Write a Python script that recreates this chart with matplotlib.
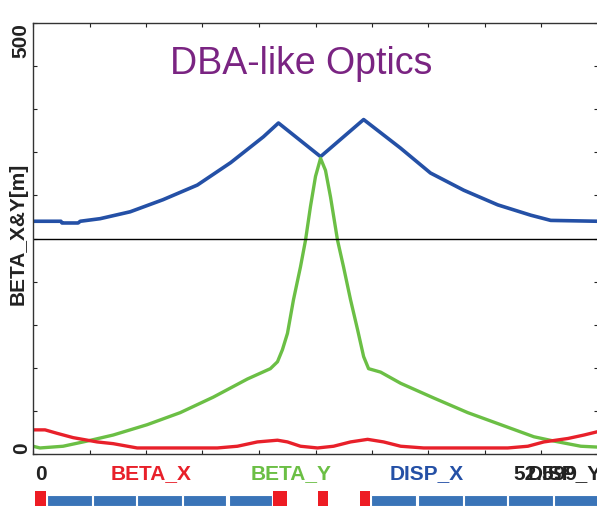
import matplotlib.pyplot as plt
import matplotlib.transforms as mtransforms

plt.rcParams['font.family'] = ['Liberation Sans', 'DejaVu Sans']

# position along the lattice [m]
L_TOTAL = 52.599

# blue curve (upper panel)
disp_s = [0.0, 2.6, 2.7, 4.2, 4.4, 6.25, 9.05, 12.1, 15.3, 18.4, 21.45, 22.85,
          26.77, 30.78, 34.2, 37.0, 40.1, 43.27, 46.35, 48.2, 52.6]
disp_v = [270, 270, 268, 268, 270, 273, 281, 295, 312, 338, 368, 384,
          345, 388, 355, 326, 306, 289, 277, 271, 270]

# green curve
bety_s = [0.0, 0.65, 2.8, 5.04, 7.46, 10.63, 13.71, 16.79, 19.96, 22.1, 22.76,
          23.22, 23.69, 24.25, 24.9, 25.37, 25.83, 26.3, 26.77, 27.23, 27.7,
          28.35, 28.91, 29.56, 30.22, 30.78, 31.24, 32.36, 34.23, 37.3, 40.47,
          43.55, 46.63, 48.5, 51.0, 52.6]
bety_v = [9, 7, 9, 15, 22, 34, 48, 66, 87, 99, 107,
          121, 140, 179, 217, 248, 287, 322, 343, 329, 298,
          248, 217, 179, 144, 113, 99, 95, 82, 65, 48,
          34, 20, 15, 9, 8]

# red curve
betx_s = [0.0, 1.12, 2.24, 3.73, 5.97, 7.46, 9.7, 17.16, 19.03, 20.89, 22.76,
          23.69, 24.9, 26.49, 27.98, 29.56, 31.15, 32.64, 34.23, 36.37, 44.2,
          46.07, 47.56, 49.8, 51.29, 52.6]
betx_v = [28, 28, 24, 19, 14, 12, 7, 7, 9, 14, 16,
          14, 9, 7, 9, 14, 17, 14, 9, 7, 7,
          9, 14, 18, 22, 26]

# lattice elements: (start, length)
bend_start = [0.19, 22.38, 26.5, 30.4]
bend_len = [1.02, 1.22, 1.0, 1.0]
quad_start = [1.28, 5.57, 9.7, 13.96, 18.28, 31.5, 35.8, 40.1, 44.2, 48.5]
quad_len = [4.19, 4.03, 4.17, 4.04, 4.01, 4.2, 4.2, 4.0, 4.2, 4.1]

red = '#e8202a'
green = '#6bbf45'
blue = '#2450a6'
dark = '#222222'

fig = plt.figure(figsize=(5.97, 5.09), dpi=100)
ax = fig.add_axes([33 / 597, 1 - 454 / 509, 565 / 597, 431 / 509])

ax.plot(disp_s, disp_v, color=blue, lw=2.6)
ax.plot(bety_s, bety_v, color=green, lw=2.4)
ax.plot(betx_s, betx_v, color=red, lw=2.4)
ax.axhline(250, color='black', lw=1)

ax.set_xlim(0, L_TOTAL)
ax.set_ylim(0, 500)
ax.set_xticks([L_TOTAL * i / 10 for i in range(11)])
ax.set_yticks(range(0, 501, 50))
ax.set_xticklabels([])
ax.set_yticklabels([])
ax.tick_params(direction='in', length=3, width=0.8, color=dark,
               top=True, right=True)
for sp in ax.spines.values():
    sp.set_color('#333333')
    sp.set_linewidth(1.0)

ax.text(0.475, 0.905, 'DBA-like Optics', transform=ax.transAxes,
        ha='center', va='center', fontsize=27, color='#7a2482')

# y-axis texts
tr = mtransforms.blended_transform_factory(ax.transAxes, ax.transData)
bold = dict(fontsize=15, fontweight='bold', color=dark, rotation=90)
ax.text(-0.004, 500, '500', transform=tr, ha='right', va='top', **bold)
ax.text(-0.004, 0, '0', transform=tr, ha='right', va='bottom', **bold)
ax.text(-0.010, 0.51, 'BETA_X&Y[m]', transform=ax.transAxes, ha='right',
        va='center', **bold)

# bottom labels
lab = dict(fontsize=15, fontweight='bold', va='center')
fy = 1 - 474 / 509
fig.text(35 / 597, fy, '0', ha='left', color=dark, **lab)
fig.text(151 / 597, fy, 'BETA_X', ha='center', color=red, **lab)
fig.text(291 / 597, fy, 'BETA_Y', ha='center', color=green, **lab)
fig.text(427 / 597, fy, 'DISP_X', ha='center', color=blue, **lab)
fig.text(513 / 597, fy, '52.599', ha='left', color=dark, **lab)
fig.text(528 / 597, fy, 'DISP_Y', ha='left', color=dark, **lab)

# lattice bar
axl = fig.add_axes([33 / 597, 1 - 506 / 509, 565 / 597, 15 / 509])
axl.set_xlim(0, L_TOTAL)
axl.set_ylim(0, 15)
axl.axis('off')
axl.bar(quad_start, [11] * len(quad_start), width=quad_len, align='edge',
        color='#3a74b8', edgecolor='white', linewidth=0.8)
axl.bar(bend_start, [15] * len(bend_start), width=bend_len, align='edge',
        color='#ed1c24', linewidth=0)

fig.savefig('out.png', dpi=100)
